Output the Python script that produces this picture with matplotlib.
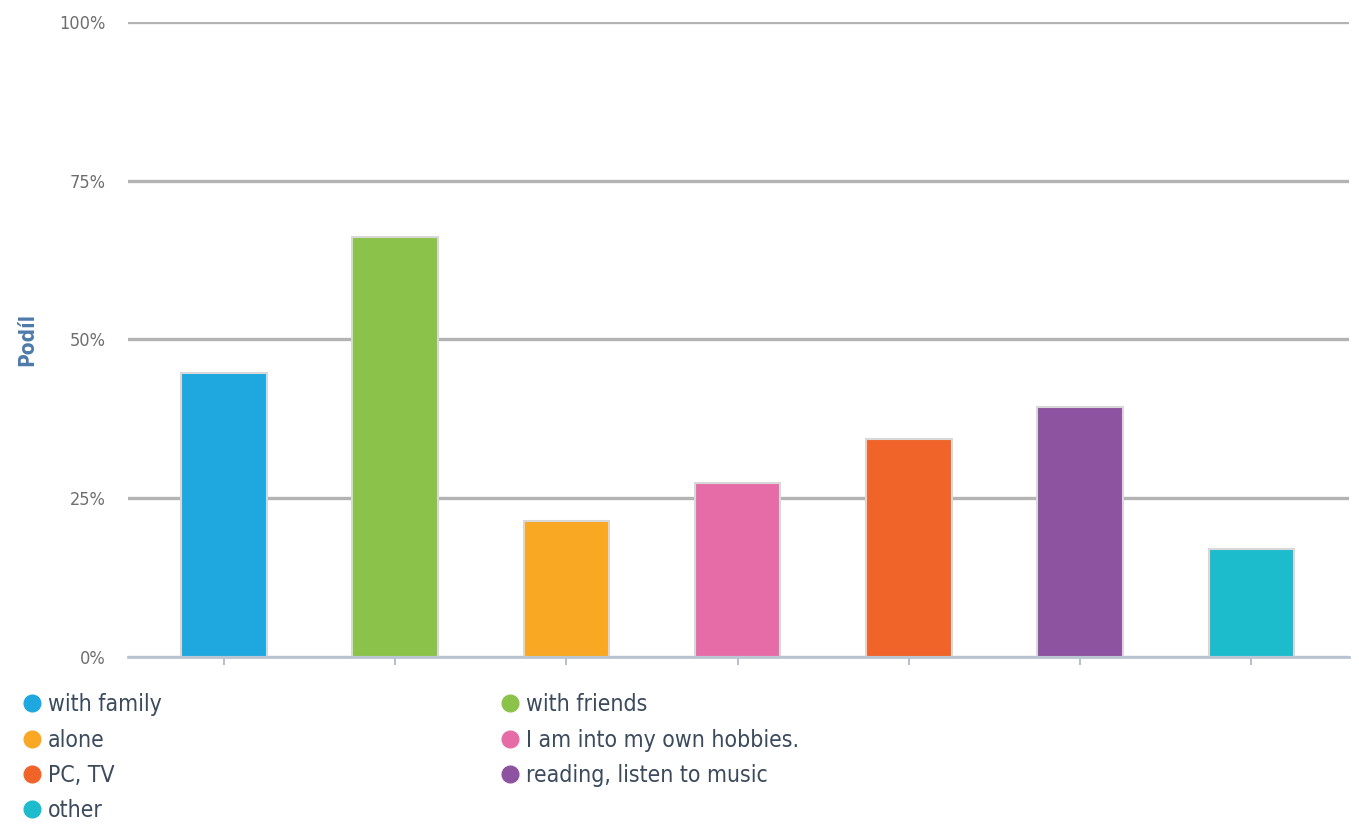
import matplotlib.pyplot as plt
from matplotlib.lines import Line2D

categories = ["with family", "with friends", "alone", "I am into my own hobbies.",
              "PC, TV", "reading, listen to music", "other"]
shares = [44.7, 66.1, 21.4, 27.4, 34.3, 39.4, 17.0]
colors = ["#1fa7df", "#8bc34a", "#f9a823", "#e66ca8", "#f0642a", "#8e53a0", "#1dbccd"]
yticks = [0, 25, 50, 75, 100]
ytick_labels = ["0%", "25%", "50%", "75%", "100%"]

plt.rcParams['font.family'] = ['DejaVu Sans']
plt.rcParams['font.stretch'] = 'condensed'

fig = plt.figure(figsize=(13.59, 8.24), dpi=100)
ax = fig.add_axes([0.0942, 0.2027, 0.8984, 0.7706])

x = list(range(len(categories)))
ax.bar(x, shares, width=0.5, color=colors, edgecolor="#d8d8d8", linewidth=1.5, zorder=3)

ax.set_ylim(0, 100)
ax.set_xlim(-0.56, 6.57)
ax.set_yticks(yticks)
ax.set_yticklabels(ytick_labels, color="#6e6e6e", fontsize=13)
ax.tick_params(axis="y", length=0, pad=16)
ax.set_xticks(x)
ax.set_xticklabels([])
ax.tick_params(axis="x", length=6, width=1.2, color="#a9b3c2", direction="out")
ax.grid(axis="y", color="#b3b3b3", linewidth=2.4, zorder=0)
for s in ["top", "right", "left"]:
    ax.spines[s].set_visible(False)
ax.spines["bottom"].set_color("#b9c3d2")
ax.spines["bottom"].set_linewidth(2)
ax.spines["bottom"].set_zorder(4)

ax.set_ylabel("Podíl", color="#4d7aaa", fontsize=15, fontweight="bold")
ax.yaxis.set_label_coords(-0.074, 0.5)

handles = [Line2D([], [], marker="o", linestyle="", markersize=12,
                  markerfacecolor=c, markeredgecolor=c) for c in colors]
order = [0, 2, 4, 6, 1, 3, 5]
fig.legend([handles[i] for i in order], [categories[i] for i in order],
           ncol=2, loc="upper left", bbox_to_anchor=(0.0, 0.181),
           frameon=False, fontsize=16.5, labelcolor="#3b4a5c",
           handletextpad=0.1, handlelength=1.2, columnspacing=14.6,
           labelspacing=0.54, borderpad=0.3)

plt.savefig("out.png", dpi=100)
